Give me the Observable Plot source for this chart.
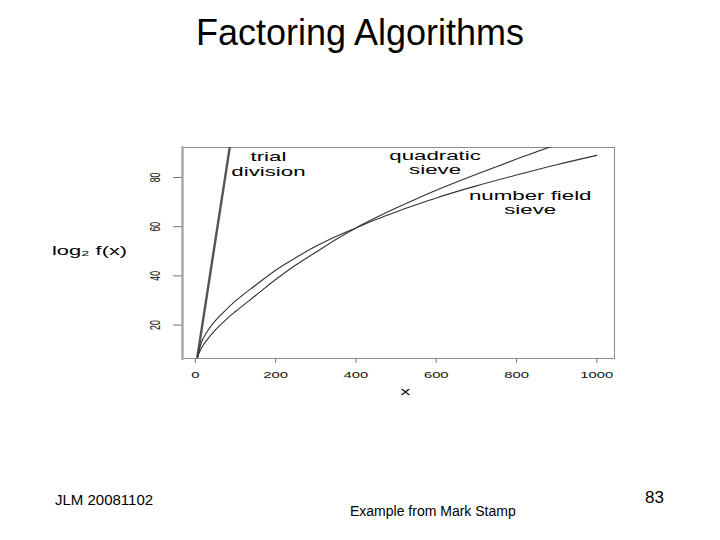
<!DOCTYPE html>
<html>
<head>
<meta charset="utf-8">
<script src="https://cdn.jsdelivr.net/npm/d3@7"></script>
<script src="https://cdn.jsdelivr.net/npm/@observablehq/plot@0.6"></script>
<style>
html,body{margin:0;padding:0;background:#fff;}
#page{position:relative;width:720px;height:540px;overflow:hidden;font-family:"Liberation Sans",Arial,sans-serif;color:#000;}
#chart{position:absolute;left:0;top:0;}
#title{position:absolute;left:0;width:720px;top:12px;text-align:center;font-size:36px;}
.foot{position:absolute;white-space:nowrap;}
</style>
</head>
<body>
<div id="page">
  <div id="chart"></div>
  <div id="title">Factoring Algorithms</div>
  <div class="foot" style="left:55px;top:491px;font-size:15px;">JLM 20081102</div>
  <div class="foot" style="left:350px;top:503px;font-size:14px;">Example from Mark Stamp</div>
  <div class="foot" style="left:645px;top:488px;font-size:17px;">83</div>
</div>
<script>
// ---- data ----
const xValues   = [5, 15, 30, 50, 75, 100, 150, 200, 250, 300, 350, 400, 450, 500, 550, 600, 700, 800, 900, 1000];
const nfsValues = [7, 12.8, 17.5, 21.8, 26, 29.8, 36.2, 42.3, 47.4, 52, 56, 59.5, 62.9, 66, 68.9, 71.7, 76.6, 81, 85.2, 89];
const qsValues  = [7, 10.6, 14.2, 18, 22, 25.5, 32, 38.5, 44.4, 49.6, 54.8, 59.5, 63.7, 67.6, 71.3, 74.8, 81.3, 87.5, 93.4, 99.2];
const trialX = [5, 93];
const trialY = [7, 100];
const xTicks = [0, 200, 400, 600, 800, 1000];
const yTicks = [20, 40, 60, 80];
const curveLabels = ["trial\ndivision", "quadratic\nsieve", "number field\nsieve"];
const labelX = [182, 597, 834];
const labelY = [85.5, 86.1, 69.8];
const yAxisLabel = "log\u2082 f(x)";
const xAxisLabel = "x";

// ---- tables ----
const nfs = xValues.map((x, i) => ({x, y: nfsValues[i]}));
const qs = xValues.map((x, i) => ({x, y: qsValues[i]}));
const trial = trialX.map((x, i) => ({x, y: trialY[i]}));
const labels = curveLabels.map((t, i) => ({t, x: labelX[i], y: labelY[i]}));

const svg = Plot.plot({
  width: 720,
  height: 540,
  marginLeft: 182,
  marginRight: 106,
  marginTop: 147,
  marginBottom: 182,
  style: {fontFamily: "'Liberation Sans', Arial, sans-serif", background: "transparent", color: "#111"},
  x: {domain: [-32, 1044]},
  y: {domain: [6.4, 92.2]},
  marks: [
    Plot.frame({stroke: "#8c8c8c", strokeWidth: 1}),
    Plot.frame({anchor: "left", stroke: "#a8a8a8", strokeWidth: 2.5}),
    Plot.axisX({ticks: xTicks, tickFormat: d => String(d), tickSize: 5, tickPadding: 8, stroke: "#777", fill: "#111", fontSize: 9.4, label: null}),
    Plot.axisY({ticks: yTicks, tickSize: 9, stroke: "#777", tickFormat: () => "", label: null}),
    Plot.text(yTicks, {y: d => d, text: d => String(d), frameAnchor: "left", dx: -27, rotate: -90, textAnchor: "middle", lineAnchor: "middle", fontSize: 14.5, fill: "#111"}),
    Plot.text([yAxisLabel], {frameAnchor: "left", dx: -93, dy: -2.5, textAnchor: "middle", fontSize: 13, fill: "#000"}),
    Plot.text([xAxisLabel], {frameAnchor: "bottom", dx: 7, dy: 33, textAnchor: "middle", lineAnchor: "middle", fontSize: 11.6, fill: "#000"}),
    Plot.text(labels, {x: "x", y: "y", text: "t", textAnchor: "middle", lineAnchor: "middle", lineHeight: 1.13, fontSize: 12.8, fill: "#000"}),
    Plot.line(trial, {x: "x", y: "y", stroke: "#555", strokeWidth: 2.4, clip: true}),
    Plot.line(nfs, {x: "x", y: "y", stroke: "#333", strokeWidth: 1.1, curve: "monotone-x", clip: true}),
    Plot.line(qs, {x: "x", y: "y", stroke: "#333", strokeWidth: 1.1, curve: "monotone-x", clip: true})
  ]
});
document.getElementById("chart").appendChild(svg);

// the original raster is stretched horizontally; mimic it by stretching glyphs
function stretchEl(el, factor) {
  const len = el.getComputedTextLength();
  if (len > 0) {
    el.setAttribute("textLength", (len * factor).toFixed(2));
    el.setAttribute("lengthAdjust", "spacingAndGlyphs");
  }
}
function stretchGroup(g, factor) {
  if (!g) return;
  g.querySelectorAll("text").forEach(t => {
    const spans = t.querySelectorAll("tspan");
    if (spans.length) spans.forEach(s => stretchEl(s, factor));
    else stretchEl(t, factor);
  });
}
const textGroups = svg.querySelectorAll('g[aria-label="text"]');
stretchGroup(textGroups[0], 0.6);   // rotated y tick labels (compressed along text)
stretchGroup(textGroups[1], 1.68);  // log2 f(x)
stretchGroup(textGroups[2], 1.7);   // x
stretchGroup(textGroups[3], 1.74);  // curve labels
stretchGroup(svg.querySelector('g[aria-label="x-axis tick label"]'), 1.58);
</script>
</body>
</html>
